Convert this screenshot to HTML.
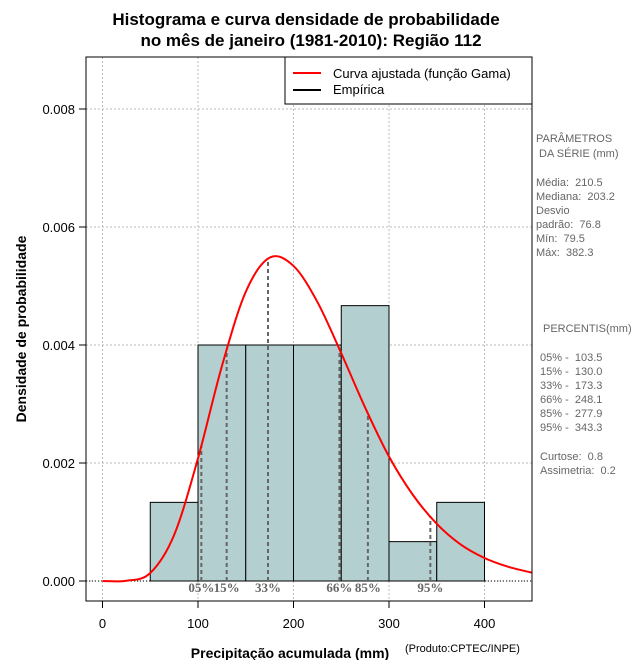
<!DOCTYPE html>
<html><head><meta charset="utf-8"><style>
body{margin:0;background:#fff;width:640px;height:660px;overflow:hidden;font-family:"Liberation Sans",sans-serif}
text{white-space:pre}
</style></head><body>
<svg id="chart" width="640" height="660" xmlns="http://www.w3.org/2000/svg">
<text x="306" y="25" text-anchor="middle" font-size="17" font-weight="bold">Histograma e curva densidade de probabilidade</text>
<text x="311" y="46" text-anchor="middle" font-size="17" font-weight="bold">no mês de janeiro (1981-2010): Região 112</text>
<g id="grid"></g>
<g id="bars"></g>
<g id="pct"></g>
<path id="curve" fill="none" stroke="#ff0000" stroke-width="2"/>
<rect x="86" y="57" width="446" height="544" fill="none" stroke="#000"/>
<g id="axes" font-size="13"></g>
<text x="290" y="658" text-anchor="middle" font-size="14" font-weight="bold">Precipitação acumulada (mm)</text>
<text x="405" y="652" font-size="11">(Produto:CPTEC/INPE)</text>
<text transform="translate(26,329) rotate(-90)" text-anchor="middle" font-size="14" font-weight="bold">Densidade de probabilidade</text>
<g>
<rect x="285" y="57" width="247" height="47" fill="#fff" stroke="#000"/>
<line x1="293" y1="73" x2="321" y2="73" stroke="#ff0000" stroke-width="2"/>
<text x="333" y="78" font-size="13">Curva ajustada (função Gama)</text>
<line x1="293" y1="90" x2="321" y2="90" stroke="#000" stroke-width="2"/>
<text x="333" y="94" font-size="13">Empírica</text>
</g>
<g font-size="11" fill="#666">
<text x="536" y="142">PARÂMETROS</text><text x="536" y="157"> DA SÉRIE (mm)</text>
<text x="536" y="186">Média:  210.5</text><text x="536" y="200">Mediana:  203.2</text>
<text x="536" y="214">Desvio</text><text x="536" y="228">padrão:  76.8</text>
<text x="536" y="242">Mín:  79.5</text><text x="536" y="256">Máx:  382.3</text>
<text x="543" y="332">PERCENTIS(mm)</text>
<text x="540" y="361">05% -  103.5</text><text x="540" y="375">15% -  130.0</text>
<text x="540" y="389">33% -  173.3</text><text x="540" y="403">66% -  248.1</text>
<text x="540" y="417">85% -  277.9</text><text x="540" y="431">95% -  343.3</text>
<text x="540" y="460">Curtose:  0.8</text><text x="540" y="474">Assimetria:  0.2</text>
</g>
</svg>
<script>
const binStarts=[50,100,150,200,250,300,350];
const binDensity=[0.001333,0.004,0.004,0.004,0.004667,0.000667,0.001333];
const curveX=[0,25,50,75,100,125,150,175,200,225,250,275,300,325,350,375,400,425,450];
const curveY=[0,0.0000036,0.000136,0.00078,0.00208,0.00364,0.0049,0.00548,0.00534,0.00473,0.00386,0.00294,0.00211,0.00146,0.00097,0.00062,0.00039,0.00024,0.00014];
const pctValues=[103.5,130.0,173.3,248.1,277.9,343.3];
const pctLabels=["05%","15%","33%","66%","85%","95%"];
const xTicks=[0,100,200,300,400];
const yTicks=[0,0.002,0.004,0.006,0.008];
const yTickLabels=["0.000","0.002","0.004","0.006","0.008"];
const NS="http://www.w3.org/2000/svg";
const X=v=>102.5+v*0.955, Y=v=>581-v*59000;
function mk(tag,at,parent){const e=document.createElementNS(NS,tag);for(const k in at)e.setAttribute(k,at[k]);parent.appendChild(e);return e;}
const grid=document.getElementById('grid'),bars=document.getElementById('bars'),pct=document.getElementById('pct'),axes=document.getElementById('axes');
xTicks.forEach(t=>{const l=mk('line',{x1:X(t),x2:X(t),y1:57,y2:601,stroke:'#bbb','stroke-dasharray':'2,2'},grid);


const k=mk('line',{x1:X(t),x2:X(t),y1:601,y2:608,stroke:'#000'},axes);


const s=mk('text',{x:X(t),y:628,'text-anchor':'middle'},axes);s.textContent=t;

});
yTicks.forEach((t,i)=>{const l=mk('line',{x1:86,x2:532,y1:Y(t),y2:Y(t),stroke:'#bbb','stroke-dasharray':'2,2'},grid);


const k=mk('line',{x1:79,x2:86,y1:Y(t),y2:Y(t),stroke:'#000'},axes);


const s=mk('text',{x:75,y:Y(t)+5,'text-anchor':'end'},axes);s.textContent=yTickLabels[i];

});
binStarts.forEach((b,i)=>{const r=mk('rect',{x:X(b),y:Y(binDensity[i]),width:X(b+50)-X(b),height:Y(0)-Y(binDensity[i]),fill:'#b4cfcf',stroke:'#000','stroke-width':1},bars);

});
const bl=mk('line',{x1:86,x2:532,y1:581,y2:581,stroke:'#000','stroke-dasharray':'1,2'},bars);


function interp(v){for(let i=0;i<curveX.length-1;i++){if(v<=curveX[i+1]){const f=(v-curveX[i])/(curveX[i+1]-curveX[i]);return curveY[i]+f*(curveY[i+1]-curveY[i]);}}return curveY[curveY.length-1];}
pctValues.forEach((p,i)=>{const l=mk('line',{x1:X(p),x2:X(p),y1:Y(0),y2:Y(interp(p)),stroke:'#666','stroke-width':2,'stroke-dasharray':'4,3'},pct);


const s=mk('text',{x:X(p),y:592,'text-anchor':'middle','font-size':13,'font-weight':'bold',fill:'#666','font-family':'Liberation Serif, serif'},pct);s.textContent=pctLabels[i];

});
const pts=curveX.map((x,i)=>[X(x),Y(curveY[i])]);
let d='M'+pts[0][0]+','+pts[0][1];
for(let i=0;i<pts.length-1;i++){const p0=pts[Math.max(0,i-1)],p1=pts[i],p2=pts[i+1],p3=pts[Math.min(pts.length-1,i+2)];
d+=` C${p1[0]+(p2[0]-p0[0])/6},${p1[1]+(p2[1]-p0[1])/6} ${p2[0]-(p3[0]-p1[0])/6},${p2[1]-(p3[1]-p1[1])/6} ${p2[0]},${p2[1]}`;}
document.getElementById('curve').setAttribute('d',d);
</script>
</body></html>
